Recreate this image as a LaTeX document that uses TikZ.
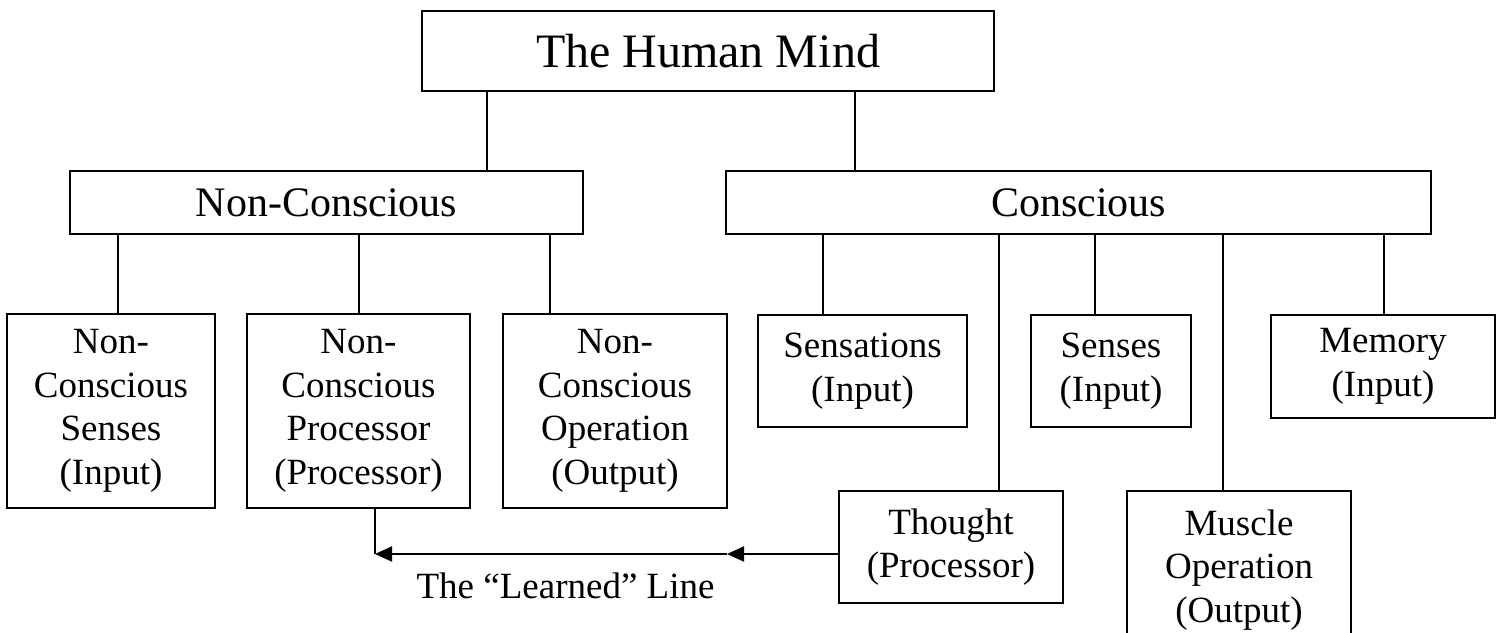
\documentclass[tikz,border=0pt]{standalone}
\usepackage{fontspec}
\setmainfont{Liberation Serif}
\usetikzlibrary{arrows.meta}

\tikzset{
  box/.style={draw, line width=1pt, inner sep=0pt, align=center},
  small/.style={font=\fontsize{18.5}{21.75}\selectfont},
  link/.style={line width=0.6pt},
  learned/.style={line width=1pt, -{Triangle[length=8.5pt,width=7.5pt]}}
}

\begin{document}
\begin{tikzpicture}[x=0.5pt,y=-0.5pt]
\useasboundingbox (0,0) rectangle (1502,632);
% top and second level
\node[box,minimum width=286pt,minimum height=40pt,font=\fontsize{24}{28}\selectfont] (mind) at (708,51) {The Human Mind};
\node[box,minimum width=256.5pt,minimum height=31.5pt,font=\fontsize{21}{25}\selectfont] (noncon) at (326.5,202.5) {Non-Conscious};
\node[box,minimum width=352.5pt,minimum height=31.5pt,font=\fontsize{21}{25}\selectfont] (con) at (1078.5,202.5) {Conscious};
% non-conscious side
\node[box,small,minimum width=104pt,minimum height=97pt] (ncsenses) at (111,411) {Non-\\Conscious\\Senses\\(Input)};
\node[box,small,minimum width=111.5pt,minimum height=97pt] (ncproc) at (358.5,411) {Non-\\Conscious\\Processor\\(Processor)};
\node[box,small,minimum width=112pt,minimum height=97pt] (ncop) at (615,411) {Non-\\Conscious\\Operation\\(Output)};
% conscious side
\node[box,small,minimum width=104.5pt,minimum height=56pt] (sensations) at (862.5,371) {Sensations\\(Input)};
\node[box,small,minimum width=80pt,minimum height=56pt] (senses) at (1111,371) {Senses\\(Input)};
\node[box,small,minimum width=112pt,minimum height=51.5pt] (memory) at (1383,366.5) {Memory\\(Input)};
\node[box,small,minimum width=112pt,minimum height=56pt] (thought) at (951,547) {Thought\\(Processor)};
\node[box,small,minimum width=112pt,minimum height=79pt] (muscle) at (1239,570) {Muscle\\Operation\\(Output)};

\draw[link] (mind.south -| 487,0) -- (noncon.north -| 487,0);
\draw[link] (mind.south -| 855,0) -- (con.north -| 855,0);
\draw[link] (noncon.south -| 118,0) -- (ncsenses.north -| 118,0);
\draw[link] (noncon.south -| 359,0) -- (ncproc.north -| 359,0);
\draw[link] (noncon.south -| 550,0) -- (ncop.north -| 550,0);
\draw[link] (con.south -| 823,0) -- (sensations.north -| 823,0);
\draw[link] (con.south -| 999,0) -- (thought.north -| 999,0);
\draw[link] (con.south -| 1095,0) -- (senses.north -| 1095,0);
\draw[link] (con.south -| 1223,0) -- (muscle.north -| 1223,0);
\draw[link] (con.south -| 1384,0) -- (memory.north -| 1384,0);

% the learned line back to the non-conscious processor
\coordinate (turn) at (375,554);
\coordinate (mid) at (727,554);
\draw[line width=0.85pt] (ncproc.south -| turn) -- (turn);
\draw[learned] (thought.west |- turn) -- (mid);
\draw[learned] (mid) -- (turn);
\node[small,anchor=base] (learnedlabel) at (565.5,598) {The “Learned” Line};
\end{tikzpicture}
\end{document}
